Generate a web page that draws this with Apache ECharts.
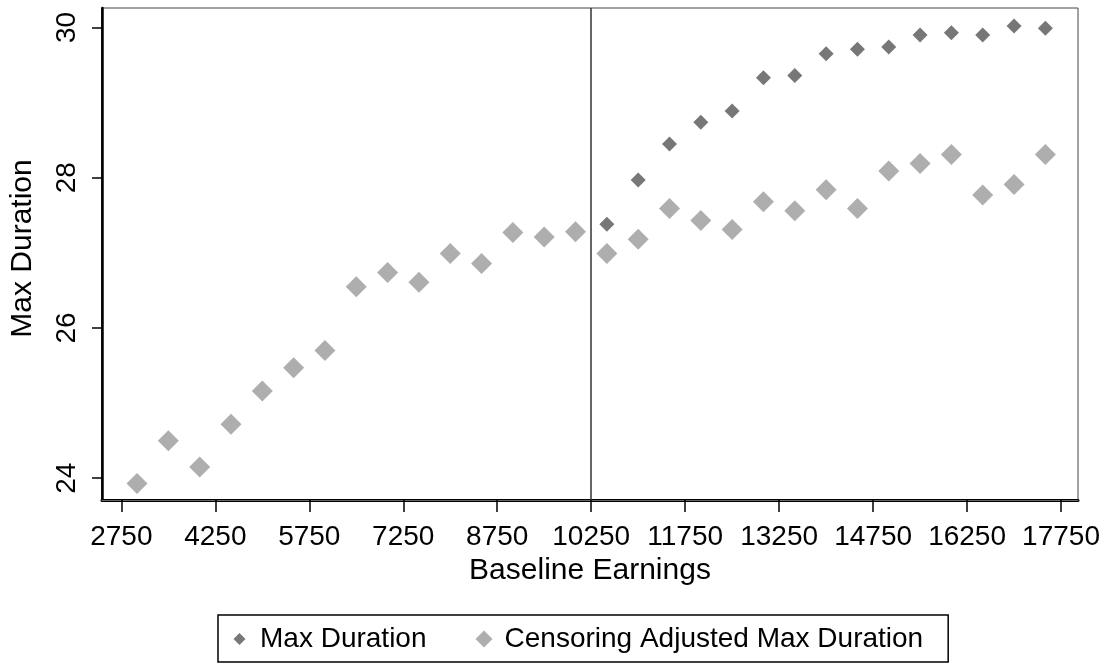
<!DOCTYPE html>
<html>
<head>
<meta charset="utf-8">
<script src="https://cdn.jsdelivr.net/npm/echarts@6/dist/echarts.min.js"></script>
<style>html,body{margin:0;padding:0;background:#fff}#chart{width:1110px;height:666px}</style>
</head>
<body>
<div id="chart"></div>
<script>
// Baseline earnings (x) for each point
const earnings = [3000,3500,4000,4500,5000,5500,6000,6500,7000,7500,8000,8500,9000,9500,10000,
                  10500,11000,11500,12000,12500,13000,13500,14000,14500,15000,15500,16000,16500,17000,17500];
// Censoring Adjusted Max Duration (all 30 points)
const censoringAdjusted = [23.93,24.50,24.15,24.72,25.16,25.47,25.70,26.55,26.74,26.61,26.99,26.86,27.27,27.21,27.28,
                           26.99,27.18,27.59,27.43,27.31,27.68,27.56,27.84,27.59,28.09,28.19,28.31,27.77,27.91,28.31];
// Max Duration (from 10500 on)
const maxEarnings = [10500,11000,11500,12000,12500,13000,13500,14000,14500,15000,15500,16000,16500,17000,17500];
const maxDuration = [27.38,27.97,28.45,28.74,28.89,29.33,29.36,29.65,29.71,29.74,29.90,29.93,29.90,30.02,29.99];
// Tick labels
const xTicks = [2750,4250,5750,7250,8750,10250,11750,13250,14750,16250,17750];
const yTicks = [24,26,28,30];
const cutoff = 10250;

const FONT = "'Liberation Sans', Arial, sans-serif";
const FS = 28;
const FT = 30;
const chart = echarts.init(document.getElementById('chart'), null, {renderer:'canvas'});
const pairs = (xs, ys) => xs.map((x,i)=>[x, ys[i]]);
const plain = v => String(v);
// smaller diamond inside the same legend box for the dark series
const smallDiamond = 'path://M0,0 L0.01,0 M17,17 L17.01,17 M8.5,2.5 L14.5,8.5 L8.5,14.5 L2.5,8.5 Z';

chart.setOption({
  animation:false,
  backgroundColor:'#fff',
  textStyle:{fontFamily:FONT},
  grid:{left:100,right:32,top:8,bottom:166,show:true,borderColor:'#444',borderWidth:1},
  legend:{
    left:218, top:615,
    padding:[10,25,9,13],
    borderColor:'#000', borderWidth:1.5,
    itemWidth:17, itemHeight:17, itemGap:49,
    textStyle:{fontSize:FS, color:'#000', fontFamily:FONT, padding:[0,0,0,7]},
    data:[{name:'Max Duration', icon:smallDiamond},{name:'Censoring Adjusted Max Duration', icon:'diamond'}]
  },
  xAxis:[{
    type:'value', min:2441, max:18021,
    name:'Baseline Earnings', nameLocation:'middle', nameGap:43,
    nameTextStyle:{fontSize:FT,color:'#000',fontFamily:FONT},
    axisLine:{show:true,onZero:false,lineStyle:{color:'#000',width:3}},
    axisTick:{show:true,length:12,customValues:xTicks,lineStyle:{color:'#000',width:1.5}},
    axisLabel:{customValues:xTicks,formatter:plain,fontSize:FS,color:'#000',margin:23,fontFamily:FONT},
    splitLine:{show:false}
  },{
    type:'value', position:'top', min:0, max:1,
    axisLine:{show:true,lineStyle:{color:'#666',width:1}},
    axisTick:{show:false}, axisLabel:{show:false}, splitLine:{show:false}
  }],
  yAxis:[{
    type:'value', min:23.71, max:30.26,
    name:'Max Duration', nameLocation:'middle', nameGap:64,
    nameTextStyle:{fontSize:FT,color:'#000',fontFamily:FONT,padding:[0,0,0,11]},
    axisLine:{show:true,onZero:false,lineStyle:{color:'#000',width:1.5}},
    axisTick:{show:true,length:10,customValues:yTicks,lineStyle:{color:'#000',width:1.5}},
    axisLabel:{customValues:yTicks,formatter:plain,fontSize:FS,color:'#000',rotate:90,margin:21,fontFamily:FONT},
    splitLine:{show:false}
  },{
    type:'value', position:'right', min:0, max:1,
    axisLine:{show:true,lineStyle:{color:'#000',width:2.5}},
    axisTick:{show:false}, axisLabel:{show:false}, splitLine:{show:false}
  }],
  series:[{
    name:'Max Duration', type:'scatter', symbol:'diamond', symbolSize:15,
    itemStyle:{color:'#555555'},
    data:pairs(maxEarnings, maxDuration), z:3
  },{
    name:'Censoring Adjusted Max Duration', type:'scatter', symbol:'diamond', symbolSize:21,
    itemStyle:{color:'#9a9a9a'},
    data:pairs(earnings, censoringAdjusted), z:2,
    markLine:{
      silent:true, symbol:['none','none'], label:{show:false},
      lineStyle:{color:'#333',width:1.5,type:'solid'},
      data:[{xAxis:cutoff}]
    }
  }]
});
</script>
</body>
</html>
